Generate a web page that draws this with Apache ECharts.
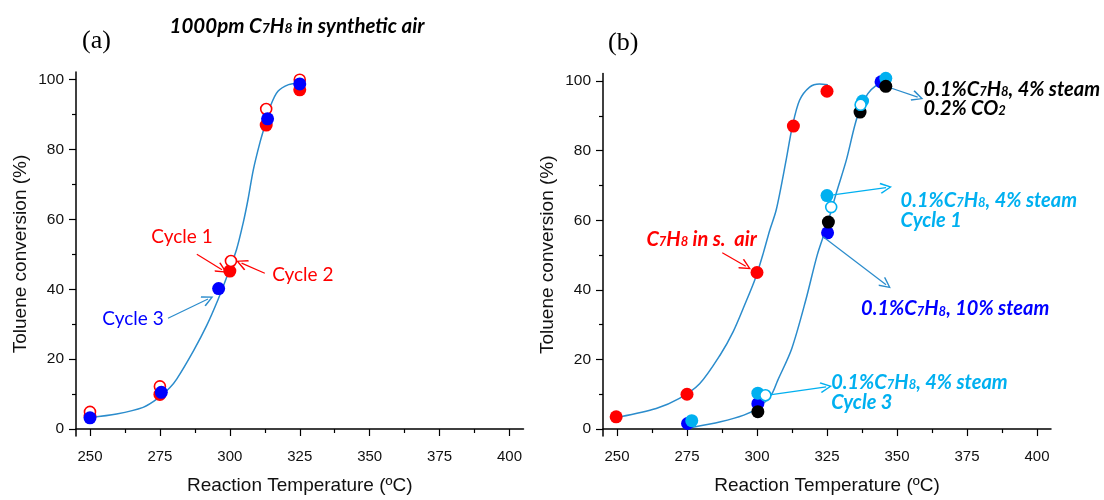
<!DOCTYPE html>
<html>
<head>
<meta charset="utf-8">
<script src="https://cdn.jsdelivr.net/npm/echarts@6/dist/echarts.min.js"></script>
<style>
  html, body { margin: 0; background: #fff; }
  #chart { width: 1104px; height: 500px; }
</style>
</head>
<body>
<div id="chart"></div>
<script>
// ---- panel (a): 1000 ppm toluene in synthetic air, three cycles
const cycle1A = [[250, 3.8], [275, 9.9], [300, 45.2], [313, 87], [325, 97.1]];
const cycle2A = [[250, 4.9], [275, 12.2], [300.4, 48.1], [313, 91.6], [325, 100]];
const cycle3A = [[250, 3.2], [275.5, 10.5], [296, 40.2], [313.5, 88.8], [325, 98.8]];
const fitA = [[250, 3.3], [259.5, 4.3], [269, 6.2], [274, 8.6], [278.6, 11.9], [281, 14.3],
  [287, 22.4], [291.7, 29.6], [295.8, 37.1], [298.8, 43.3], [302.4, 51.4], [304.8, 59.1],
  [306.5, 65.7], [308.4, 74.2], [310.9, 82.4], [312.8, 87.6], [314.7, 92.8], [317.2, 96.7],
  [321, 98.6], [324.6, 99]];

// ---- panel (b): air vs steam / CO2 feeds
const airB = [[249.7, 3.5], [275, 10], [300, 45], [313, 87.1], [325, 97.1]];
const steam10B = [[275.2, 1.6], [300.3, 7.3], [325.2, 56.4], [344.3, 99.8]];
const steam4C1B = [[276.7, 2.4], [300.3, 10.3], [325, 67.1], [337.7, 94.3], [346, 100.8]];
const steamCO2B = [[300.3, 5], [325.5, 59.5], [336.8, 91.1], [346, 98.5]];
const steam4C3B = [[303, 9.7], [326.5, 63.8], [337, 93.2]];
const fitAirB = [[251, 3.5], [264, 5.9], [272.3, 8.8], [279.5, 13], [287, 21.5], [291.5, 28],
  [295.5, 35.5], [299.5, 43.5], [302.4, 51], [304.5, 57], [306.9, 63.1], [310.4, 77.3],
  [312.6, 86.9], [315.2, 94.5], [318.8, 98.3], [322.3, 99.2], [325.3, 99]];
const fitSteamB = [[276.3, 0.4], [287, 2.1], [295.3, 4], [300, 5.9], [305, 9.7], [307.4, 14],
  [312.4, 23.1], [317.5, 37.3], [321.5, 50], [324.9, 58.3], [328.3, 67.8], [331.9, 77.3],
  [334.8, 86.9], [336.6, 91.6], [339.6, 96.4], [342.6, 98.8], [345.5, 99.8]];

// ---- axes
const xTicks = [250, 275, 300, 325, 350, 375, 400];
const xMinor = [262.5, 287.5, 312.5, 337.5, 362.5, 387.5];
const yTicks = [0, 20, 40, 60, 80, 100];
const yMinor = [10, 30, 50, 70, 90];

const RED = '#ff0000', BLUE = '#0000ff', CYAN = '#00b0f0', BLACK = '#000000', FIT = '#2b8ccc';
const TXT = 'Lato, "Open Sans", sans-serif';
const AX = 'Liberation Sans, Arial, sans-serif';

// arrow annotations, in data coordinates [from, to]
const arrowsA = [
  { from: [288.2, 50], to: [297.2, 45.6], color: RED },
  { from: [312.5, 44.6], to: [304.2, 47.5], color: RED },
  { from: [277.9, 31.7], to: [292.2, 37.2], color: FIT }
];
const arrowsB = [
  { from: [287.6, 50.7], to: [296, 46.8], color: RED },
  { from: [346.5, 98.4], to: [357.4, 95.4], color: FIT },
  { from: [327.2, 67.3], to: [346.1, 69.4], color: CYAN },
  { from: [323.6, 55.3], to: [346.1, 41.5], color: FIT },
  { from: [305.2, 9.9], to: [324.7, 12.1], color: CYAN }
];

const chev = 'path://M5,0 L10,9 L8.9,9.8 L5,2.4 L1.1,9.8 L0,9 Z';

const chem = s => ({ b: { fontSize: s, fontWeight: 'bold', fontStyle: 'italic', fontFamily: TXT },
  s: { fontSize: Math.round(s * 0.66), fontWeight: 'bold', fontStyle: 'italic', fontFamily: TXT, verticalAlign: 'bottom', padding: [0, 0, 1, 0] } });

function note(grid, pos, text, color, opts) {
  return {
    type: 'scatter', xAxisIndex: grid * 2, yAxisIndex: grid * 2, silent: true, z: 20,
    symbolSize: 1, itemStyle: { color: 'rgba(0,0,0,0)', opacity: 1 },
    data: [pos],
    label: Object.assign({ show: true, color: color, formatter: text, fontFamily: TXT, opacity: 1 }, opts)
  };
}

function arrows(grid, list) {
  return {
    type: 'line', xAxisIndex: grid * 2, yAxisIndex: grid * 2, data: [], silent: true,
    markLine: {
      silent: true, animation: false, symbol: ['none', chev], symbolSize: [11, 12],
      label: { show: false }, emphasis: { disabled: true },
      data: list.map(a => [
        { coord: a.from, lineStyle: { color: a.color, width: 1.2, type: 'solid', opacity: 1 }, itemStyle: { color: a.color } },
        { coord: a.to }
      ])
    }
  };
}

function axesFor(grid) {
  const base = { gridIndex: grid, type: 'value', min: 245, max: 405, position: 'bottom', splitLine: { show: false } };
  const yBase = { gridIndex: grid, type: 'value', min: -2, max: 102.2, position: 'left', splitLine: { show: false } };
  return {
    x: [
      Object.assign({}, base, {
        name: 'Reaction Temperature (ºC)', nameLocation: 'middle', nameGap: 40,
        nameTextStyle: { fontSize: 19, color: '#111', fontFamily: AX },
        axisLine: { lineStyle: { color: '#000', width: 1.5 } },
        axisTick: { length: 7, customValues: xTicks, lineStyle: { color: '#000', width: 1.2 } },
        axisLabel: { customValues: xTicks, margin: 13, fontSize: 15, color: '#111', fontFamily: AX }
      }),
      Object.assign({}, base, {
        axisLine: { show: false },
        axisTick: { show: true, length: 4, customValues: xMinor, lineStyle: { color: '#000', width: 1.2 } },
        axisLabel: { show: false }
      })
    ],
    y: [
      Object.assign({}, yBase, {
        name: 'Toluene conversion (%)', nameLocation: 'middle', nameGap: 46,
        nameTextStyle: { fontSize: 19, color: '#111', fontFamily: AX },
        axisLine: { show: true, lineStyle: { color: '#000', width: 1.5 } },
        axisTick: { show: true, length: 7, customValues: yTicks, lineStyle: { color: '#000', width: 1.2 } },
        axisLabel: { customValues: yTicks, margin: 12, fontSize: 15.5, color: '#111', fontFamily: AX }
      }),
      Object.assign({}, yBase, {
        axisLine: { show: false },
        axisTick: { show: true, length: 4, customValues: yMinor, lineStyle: { color: '#000', width: 1.2 } },
        axisLabel: { show: false }
      })
    ]
  };
}

function fit(grid, data) {
  return {
    type: 'line', xAxisIndex: grid * 2, yAxisIndex: grid * 2, data: data, smooth: 0.3,
    showSymbol: false, silent: true, z: 1, lineStyle: { color: FIT, width: 1.5 }
  };
}

function dots(grid, data, color, open, z) {
  return {
    type: 'scatter', xAxisIndex: grid * 2, yAxisIndex: grid * 2, data: data, z: z,
    symbolSize: open ? 11 : 13,
    itemStyle: open ? { color: '#fff', borderColor: color, borderWidth: 1.6, opacity: 1 } : { color: color, opacity: 1 }
  };
}

const a = axesFor(0), b = axesFor(1);
const chart = echarts.init(document.getElementById('chart'), null, { renderer: 'canvas' });

chart.setOption({
  animation: false,
  backgroundColor: '#fff',
  title: [
    { text: '(a)', left: 77, top: 23, textStyle: { fontFamily: 'Liberation Serif', fontWeight: 'normal', fontSize: 26, color: '#000' } },
    { text: '(b)', left: 603, top: 25, textStyle: { fontFamily: 'Liberation Serif', fontWeight: 'normal', fontSize: 26, color: '#000' } },
    {
      text: '{b|1000pm C}{s|7}{b|H}{s|8}{b| in synthetic air}', left: 292, top: 11, textAlign: 'center',
      textStyle: { color: '#000', rich: chem(20.5) }
    }
  ],
  grid: [
    { left: 76, top: 72, width: 447.5, height: 365 },
    { left: 603, top: 73.5, width: 448, height: 365 }
  ],
  xAxis: a.x.concat(b.x),
  yAxis: a.y.concat(b.y),
  series: [
    fit(0, fitA),
    dots(0, cycle1A, RED, false, 3),
    dots(0, cycle2A, RED, true, 4),
    dots(0, cycle3A, BLUE, false, 5),
    arrows(0, arrowsA),
    note(0, [282.9, 54.9], 'Cycle 1', RED, { position: 'inside', fontSize: 19 }),
    note(0, [326.1, 44], 'Cycle 2', RED, { position: 'inside', fontSize: 19 }),
    note(0, [265.4, 31.4], 'Cycle 3', BLUE, { position: 'inside', fontSize: 19 }),

    fit(1, fitAirB),
    fit(1, fitSteamB),
    dots(1, airB, RED, false, 3),
    dots(1, steam10B, BLUE, false, 4),
    dots(1, steam4C1B, CYAN, false, 5),
    dots(1, steamCO2B, BLACK, false, 6),
    dots(1, steam4C3B, CYAN, true, 7),
    arrows(1, arrowsB),
    note(1, [280.2, 54.5], '{b|C}{s|7}{b|H}{s|8}{b| in s.  air}', RED, { position: 'inside', rich: chem(20) }),
    note(1, [359.3, 94.8], '{b|0.1%C}{s|7}{b|H}{s|8}{b|, 4% steam}\n{b|0.2% CO}{s|2}', BLACK,
      { position: 'right', distance: 0, lineHeight: 19, rich: chem(20) }),
    note(1, [351.1, 62.9], '{b|0.1%C}{s|7}{b|H}{s|8}{b|, 4% steam}\n{b|Cycle 1}', CYAN,
      { position: 'right', distance: 0, rich: chem(20) }),
    note(1, [337, 34.5], '{b|0.1%C}{s|7}{b|H}{s|8}{b|, 10% steam}', BLUE,
      { position: 'right', distance: 0, rich: chem(20) }),
    note(1, [326.3, 10.5], '{b|0.1%C}{s|7}{b|H}{s|8}{b|, 4% steam}\n{b|Cycle 3}', CYAN,
      { position: 'right', distance: 0, rich: chem(20) })
  ]
});
</script>
</body>
</html>
